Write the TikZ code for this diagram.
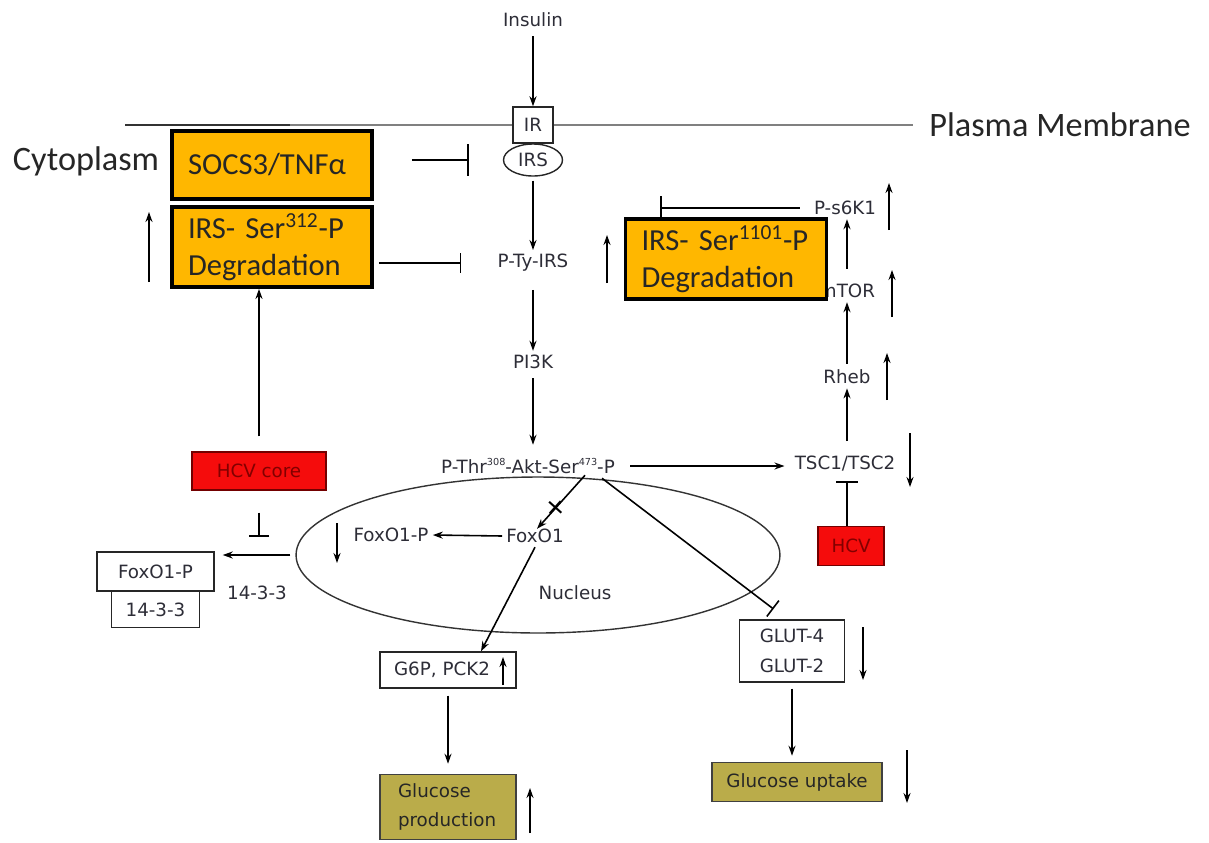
\documentclass[tikz,border=0pt]{standalone}
\usepackage{fontspec}
\setmainfont{DejaVu Sans}
\newfontfamily\calib{Carlito}
\usetikzlibrary{arrows.meta, positioning, calc, shapes.geometric}
\definecolor{boxorange}{RGB}{255,183,0}
\definecolor{hcvred}{RGB}{245,12,12}
\definecolor{hcvtext}{RGB}{130,0,0}
\definecolor{glucolive}{RGB}{186,172,74}
\definecolor{txtgray}{RGB}{45,45,55}
\newcommand\sups[1]{\raisebox{0.85ex}{\fontsize{5.5}{6}\selectfont #1}}

\tikzset{
  lbl/.style={font=\fontsize{10.4}{12.5}\selectfont, text=txtgray, inner sep=2pt},
  big/.style={font=\calib\fontsize{19.5}{23}\selectfont, text=black!85, inner sep=2pt},
  obox/.style={draw, line width=2.2pt, fill=boxorange, font=\calib\fontsize{17.4}{21}\selectfont,
    text=black!85, align=left, inner xsep=3.2mm, text width=33.6mm},
  wbox/.style={lbl, draw=black!85, line width=0.8pt, fill=white},
  rbox/.style={lbl, draw=black!55!red, line width=0.8pt, fill=hcvred, text=hcvtext},
  gbox/.style={lbl, draw=black!75, line width=0.9pt, fill=glucolive, text=black!85},
  act/.style={-{Stealth[length=2mm, width=1.4mm]}, line width=0.9pt},
  inh/.style={-{Bar[width=#1]}, line width=0.9pt},
  inh/.default=4mm
}

\begin{document}
\begin{tikzpicture}[x=0.02cm, y=-0.02cm, line width=0.9pt]
    \useasboundingbox (0,0) rectangle (1209,842);

    % membrane and compartments
    \node[big] (pm) at (1060,125) {Plasma Membrane};
    \coordinate (memL) at (125,125);
    \coordinate (memM) at (290,125);
    \draw[black!80, line width=1.1pt] (memL) -- (memM);
    \draw[gray, line width=1.1pt, shorten >=2.4mm] (memM) -- (pm.west);
    \node[big] (cyto) at (86,161) {Cytoplasm};
    \node[ellipse, draw=black!80, line width=0.8pt, minimum width=96.8mm, minimum height=31.2mm, inner sep=0] (nucleus) at (538,555) {};
    \node[lbl] (nuclbl) at (575,593) {Nucleus};

    % main insulin pathway
    \node[lbl] (insulin) at (533,20) {Insulin};
    \node[wbox, minimum width=8mm, minimum height=7.2mm, inner sep=0] (ir) at (533,125) {IR};
    \node[wbox, ellipse, minimum width=11.8mm, minimum height=6.4mm, inner sep=0] (irs) at (533,160) {IRS};
    \node[lbl] (pty) at (533,263) {P-Ty-IRS};
    \node[lbl] (pi3k) at (533,362) {PI3K};
    \node[lbl] (akt) at (528,466) {P-Thr\sups{308}-Akt-Ser\sups{473}-P};

    % mTOR branch
    \node[lbl] (tsc) at (845,464) {TSC1/TSC2};
    \node[lbl] (rheb) at (847,377) {Rheb};
    \node[lbl] (mtor) at (847,291) {mTOR};
    \node[lbl] (ps6k) at (845,208) {P-s6K1};
    \node[rbox, minimum width=13.2mm, minimum height=7.8mm] (hcv) at (851,546) {HCV};

    % orange boxes
    \node[obox, minimum height=13.6mm] (socs) at (272,165) {SOCS3/TNFα};
    \node[obox, minimum height=16mm] (ser312) at (272,247) {IRS- Ser\textsuperscript{312}-P\\Degradation};
    \node[obox, minimum height=16mm, text width=33.8mm] (ser1101) at (726,259) {IRS- Ser\textsuperscript{1101}-P\\Degradation};
    \coordinate (s6kend) at ($(ser1101.north west)!0.18!(ser1101.north east)$);

    % FoxO1 part
    \node[rbox, minimum width=26.8mm, minimum height=7.6mm] (hcvcore) at (259,471) {HCV core};
    \node[lbl] (foxo) at (535,536) {FoxO1};
    \node[lbl] (foxop) at (391,535) {FoxO1-P};
    \node[wbox, minimum width=23.4mm, minimum height=7.8mm] (foxbox) at (155.5,571.5) {FoxO1-P};
    \node[wbox, minimum width=17.6mm, minimum height=7.2mm, below=-0.4pt of foxbox] (box1433) {14-3-3};
    \node[lbl] (lbl1433) at (257,593) {14-3-3};

    % outputs
    \node[wbox, minimum width=27.2mm, minimum height=7.2mm, text width=21.6mm, align=left, inner xsep=2.8mm] (g6p) at (448,670) {G6P, PCK2};
    \node[wbox, minimum width=21mm, minimum height=12.4mm, align=center, font=\fontsize{10.4}{17}\selectfont] (glut) at (792,651) {GLUT-4\\GLUT-2};
    \node[gbox, minimum width=27.2mm, minimum height=13mm, text width=20mm, align=left, font=\fontsize{10.4}{16.5}\selectfont] (gprod) at (448,807) {Glucose\\production};
    \node[gbox, minimum width=34mm, minimum height=7.8mm] (gupt) at (797,782) {Glucose uptake};

    % connectors
    \draw[act, shorten <=1mm] (insulin) -- (ir);
    \draw[inh=6.4mm, shorten <=7.6mm, shorten >=6.8mm] (socs.east |- irs.west) -- (irs.west);
    \draw[inh, shorten <=1mm, shorten >=6.4mm] (ser312.east |- pty.west) -- (pty.west);
    \draw[act, shorten <=0.8mm] (irs) -- (pty);
    \draw[act, shorten <=2.8mm] (pty) -- (pi3k);
    \draw[act, shorten <=1mm, shorten >=1.8mm] (pi3k.south) -- (pi3k.south |- akt.north);
    \draw[act, shorten <=2.2mm, shorten >=1.2mm] (akt.east) -- (akt.east -| tsc.west);
    \draw[act, shorten <=2.2mm] (tsc.north -| rheb.south) -- (rheb.south);
    \draw[act, shorten <=0.4mm] (rheb.north) -- (rheb.north |- mtor.south);
    \draw[act, shorten <=2.2mm] (rheb.north |- mtor.north) -- (rheb.north |- ps6k.south);
    \draw[inh=5mm, shorten <=2mm] (ps6k.west) -- (s6kend |- ps6k.west);
    \draw[inh=4.4mm, shorten >=1mm] (hcv.north -| rheb.south) -- (rheb.south |- tsc.south);
    \draw[act, shorten <=3mm] (hcvcore.north) -- (hcvcore.north |- ser312.south);
    \draw[inh, shorten <=4.4mm, shorten >=3.6mm] (hcvcore.south) -- (hcvcore.south |- nucleus.west);
    \draw[act, shorten <=1mm, shorten >=1.6mm] (nucleus.west) -- (nucleus.west -| foxbox.east);
    \draw[act] ($(akt.south)+(57,-3)$) -- node[pos=0.6, sloped, inner sep=0, font=\fontsize{15}{15}\selectfont] {+} ($(foxo.north)+(2,4)$);
    \draw[act] (foxo.west) -- (foxop.east);
    \draw[act] (foxo.south) -- ($(g6p.north)+(33,0)$);
    \draw[inh, shorten >=3.4mm] ($(akt.south)+(74,0)$) -- ($(glut.north)+(-5,0)$);
    \draw[act, shorten <=1.4mm, shorten >=2mm] (g6p.south) -- (gprod.north);
    \draw[act, shorten <=1.2mm, shorten >=1.2mm] (glut.south) -- (glut.south |- gupt.north);

    % up / down changes
    \foreach \x/\ya/\yb in {149/282/212, 607/283/235, 889/230/183, 892/317/270, 887/400/353,
        910/433/487, 337/523/563, 503/685/657, 863/627/680, 530/833/788, 907/750/803} {
        \draw[act] (\x,\ya) -- (\x,\yb);
    }
\end{tikzpicture}
\end{document}
